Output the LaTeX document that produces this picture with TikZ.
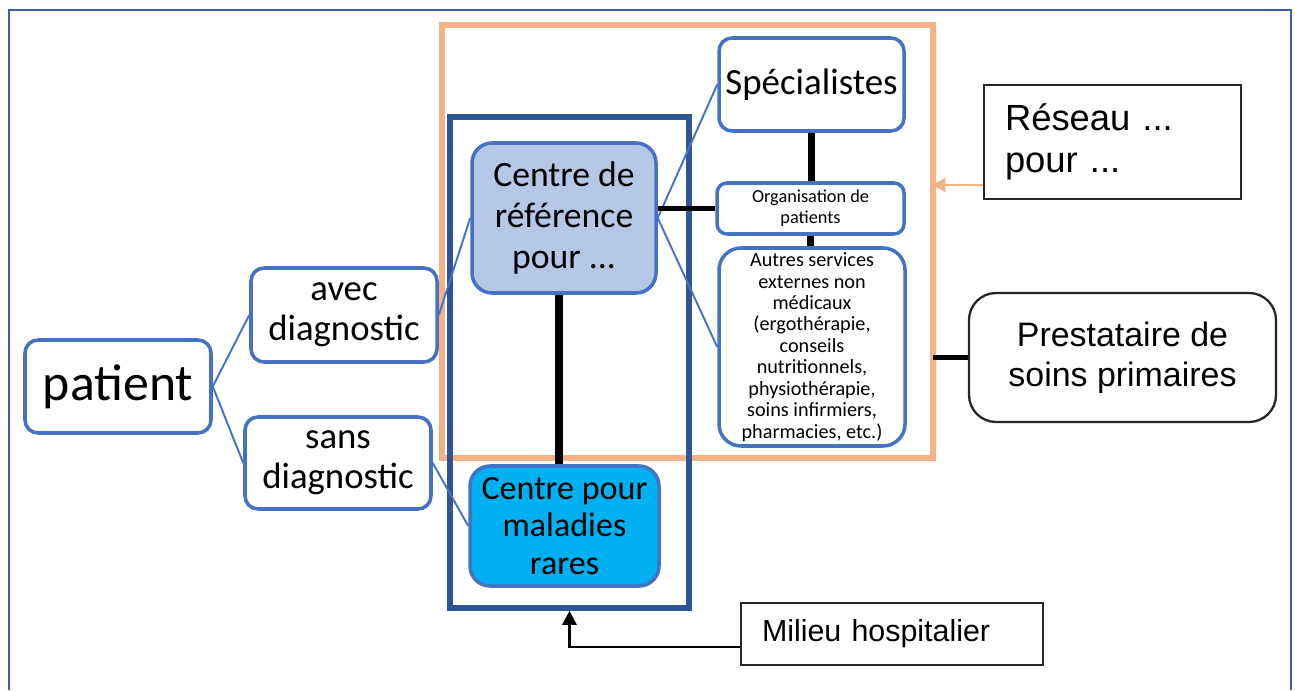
\documentclass[tikz,border=0pt]{standalone}
\usepackage{fontspec}
\setmainfont{Carlito}
\newfontfamily\arialfont{Liberation Sans}
\usetikzlibrary{arrows.meta}
\definecolor{nodeblue}{HTML}{4472C4}
\definecolor{darkblue}{HTML}{2F5597}
\definecolor{outerblue}{HTML}{3A5FA6}
\definecolor{peach}{HTML}{F4B183}
\definecolor{reffill}{HTML}{B4C7E7}
\definecolor{rarefill}{HTML}{00B0F0}
\pgfdeclarelayer{edgelayer}
\pgfdeclarelayer{nodelayer}
\pgfsetlayers{edgelayer,nodelayer,main}
\tikzstyle{none}=[inner sep=0pt]
\tikzstyle{bluebox}=[rectangle,draw=nodeblue,fill=white,line width=2pt,rounded corners=0.26cm,inner sep=0pt,align=center]
\tikzstyle{refbox}=[bluebox,fill=reffill,rounded corners=0.4cm]
\tikzstyle{rarebox}=[bluebox,fill=rarefill,rounded corners=0.4cm]
\tikzstyle{greybox}=[rectangle,draw=black!85,fill=white,line width=1.3pt,inner sep=0pt,font=\arialfont]
\tikzstyle{netframe}=[rectangle,draw=peach,line width=3.2pt,inner sep=0pt,outer sep=0pt]
\tikzstyle{hospframe}=[rectangle,draw=darkblue,line width=3.2pt,inner sep=0pt,outer sep=0pt]
\tikzstyle{blueline}=[draw=nodeblue,line width=1.1pt]
\tikzstyle{blackline}=[draw=black,line width=4pt]
\tikzstyle{peacharrow}=[draw=peach,line width=1.7pt,-{Triangle[length=7pt,width=8pt]}]
\tikzstyle{blackarrow}=[draw=black,line width=1.5pt,-{Triangle[length=8pt,width=8pt]}]

\begin{document}
\begin{tikzpicture}
	\useasboundingbox (0,0) rectangle (25.9,-13.8);
	\begin{pgfonlayer}{nodelayer}
		\node [style=bluebox, minimum width=3.72cm, minimum height=1.86cm, font=\fontsize{29.5}{33}\selectfont] (0) at (2.36, -7.73) {patient};
		\node [style=bluebox, minimum width=3.72cm, minimum height=1.88cm, font=\fontsize{20.9}{22.7}\selectfont] (1) at (6.88, -6.30) {avec\\diagnostic};
		\node [style=bluebox, minimum width=3.72cm, minimum height=1.84cm, font=\fontsize{20.9}{22.7}\selectfont] (2) at (6.76, -9.26) {sans\\diagnostic};
		\node [style=refbox, minimum width=3.68cm, minimum height=3cm, font=\fontsize{20.3}{23.2}\selectfont] (3) at (11.28, -4.36) {Centre de\\référence\\pour ...};
		\node [style=rarebox, minimum width=3.78cm, minimum height=2.4cm, font=\fontsize{19.4}{21.5}\selectfont] (4) at (11.29, -10.52) {Centre pour\\maladies\\rares};
		\node [style=bluebox, minimum width=3.7cm, minimum height=1.86cm, font=\fontsize{21}{24}\selectfont] (5) at (16.23, -1.69) {Spécialistes};
		\node [style=bluebox, rounded corners=0.2cm, minimum width=3.74cm, minimum height=1.02cm, font=\fontsize{10.4}{11.9}\selectfont] (6) at (16.21, -4.17) {Organisation de\\patients};
		\node [style=bluebox, rounded corners=0.44cm, minimum width=3.72cm, minimum height=3.96cm, font=\fontsize{11.5}{12.2}\selectfont] (7) at (16.24, -6.94) {Autres services\\externes non\\médicaux\\(ergothérapie,\\conseils\\nutritionnels,\\physiothérapie,\\soins infirmiers,\\pharmacies, etc.)};
		\node [style=greybox, text width=4.3cm, inner xsep=0.42cm, minimum height=2.28cm, align=left, font=\arialfont\fontsize{20.7}{23.8}\selectfont] (8) at (22.25, -2.84) {Réseau ...\\pour ...};
		\node [style=greybox, rounded corners=0.54cm, minimum width=6.14cm, minimum height=2.58cm, align=center, font=\arialfont\fontsize{19.3}{22.7}\selectfont] (9) at (22.45, -7.15) {Prestataire de\\soins primaires};
		\node [style=greybox, text width=5.2cm, inner xsep=0.42cm, minimum height=1.24cm, align=left, font=\arialfont\fontsize{17.3}{20}\selectfont] (10) at (17.84, -12.68) {Milieu hospitalier};
	\end{pgfonlayer}
	\begin{pgfonlayer}{edgelayer}
		\draw [draw=outerblue, line width=1.5pt] (0.18, -13.8) -- (0.18, -0.2) -- (25.82, -0.2) -- (25.82, -13.8);
		\node [style=netframe, minimum width=9.82cm, minimum height=8.66cm] (11) at (13.75, -4.83) {};
		\node [style=hospframe, minimum width=4.78cm, minimum height=9.82cm] (12) at (11.39, -7.25) {};
		\node [style=none] (13) at (19.68, -3.7) {};
		\node [style=none] (14) at (14.82, -12.94) {};
		\draw [style=blueline] (0.east) to (1.west);
		\draw [style=blueline] (0.east) to (2.west);
		\draw [style=blueline] (1.east) to (3.west);
		\draw [style=blueline] (2.east) to (4.west);
		\draw [style=blueline] (3.east) to (5.west);
		\draw [style=blueline] (3.east) to (7.west);
		\draw [style=blackline] ([xshift=-0.1cm]3.south) to ([xshift=-0.1cm]3.south |- 4.north);
		\draw [style=blackline] (5.south) to (5.south |- 6.north);
		\draw [style=blackline] (6.south) to (6.south |- 7.north);
		\draw [style=blackline, line width=2.6pt] (6.west) to (6.west -| 3.east);
		\draw [style=blackline, line width=3.2pt] (9.west) to (9.west -| 11.east);
		\draw [style=peacharrow] (13.center) to (13.center -| 11.east);
		\draw [style=blackarrow, shorten >=1.6pt] (14.center) -| (12.south);
	\end{pgfonlayer}
\end{tikzpicture}
\end{document}
